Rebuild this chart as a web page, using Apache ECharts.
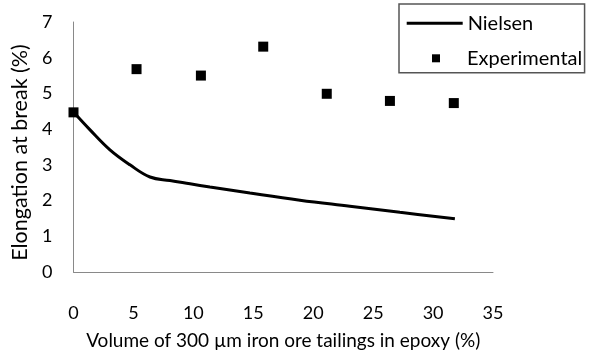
<!DOCTYPE html>
<html>
<head>
<meta charset="utf-8">
<script src="https://cdn.jsdelivr.net/npm/echarts@6/dist/echarts.min.js"></script>
<style>
html,body{margin:0;padding:0;background:#fff;}
#c{width:591px;height:355px;}
</style>
</head>
<body>
<div id="c"></div>
<script>
// Data (x in %, y in %)
var nielsenX = [0, 1.38, 3.04, 4.71, 6.38, 8.05, 9.72, 11.38, 14.72, 18.89, 23.06, 27.23, 31.82];
var nielsenY = [4.48, 3.98, 3.42, 3.00, 2.66, 2.56, 2.47, 2.38, 2.21, 2.01, 1.84, 1.67, 1.49];
var expX = [0, 5.26, 10.63, 15.83, 21.13, 26.4, 31.73];
var expY = [4.47, 5.68, 5.50, 6.31, 4.99, 4.79, 4.73];
var xTicks = [0, 5, 10, 15, 20, 25, 30, 35];
var yTicks = [0, 1, 2, 3, 4, 5, 6, 7];

function zip(a, b) { return a.map(function (v, i) { return [v, b[i]]; }); }

var FONT = 'Lato';
var chart = echarts.init(document.getElementById('c'), null, {renderer: 'canvas'});
chart.setOption({
  animation: false,
  backgroundColor: '#fff',
  textStyle: {fontFamily: FONT, color: '#000'},
  grid: {left: 73.5, right: 98, top: 22, bottom: 82.5, containLabel: false},
  legend: [
    {
      left: 399, top: 4,
      orient: 'vertical',
      padding: [9.3, 51.3, 39.4, 7.7],
      itemWidth: 56, itemHeight: 3,
      borderColor: '#555', borderWidth: 1.5, borderRadius: 0,
      selectedMode: false,
      textStyle: {fontFamily: FONT, fontSize: 20, color: '#000'},
      data: [{name: 'Nielsen', icon: 'rect'}]
    },
    {
      left: 432, top: 48.3,
      orient: 'vertical',
      padding: 0,
      itemWidth: 8, itemHeight: 8,
      selectedMode: false,
      textStyle: {fontFamily: FONT, fontSize: 20, color: '#000', padding: [0, 0, 0, 22]},
      data: [{name: 'Experimental', icon: 'rect'}]
    }
  ],
  xAxis: {
    type: 'value', min: xTicks[0], max: xTicks[xTicks.length - 1], interval: 5,
    name: 'Volume of 300 µm iron ore tailings in epoxy (%)',
    nameLocation: 'middle', nameGap: 59,
    nameTextStyle: {fontFamily: FONT, fontSize: 19, color: '#000'},
    axisLine: {show: true, lineStyle: {color: '#898989', width: 1}},
    axisTick: {show: false},
    splitLine: {show: false},
    axisLabel: {margin: 32, fontFamily: FONT, fontSize: 18, color: '#000'}
  },
  yAxis: {
    type: 'value', min: yTicks[0], max: yTicks[yTicks.length - 1], interval: 1,
    name: 'Elongation at break (%)',
    nameLocation: 'middle', nameGap: 31,
    nameTextStyle: {fontFamily: FONT, fontSize: 21.5, color: '#000', padding: [0, 11, 0, 0]},
    axisLine: {show: true, lineStyle: {color: '#898989', width: 1}},
    axisTick: {show: false},
    splitLine: {show: false},
    axisLabel: {margin: 21, fontFamily: FONT, fontSize: 18, color: '#000'}
  },
  series: [
    {
      name: 'Nielsen', type: 'line', smooth: 0.4, showSymbol: false, symbol: 'none',
      data: zip(nielsenX, nielsenY),
      lineStyle: {color: '#000', width: 3},
      itemStyle: {color: '#000'},
      z: 2
    },
    {
      name: 'Experimental', type: 'scatter', symbol: 'rect', symbolSize: 10,
      data: zip(expX, expY),
      itemStyle: {color: '#000', opacity: 1},
      z: 3
    }
  ]
});
</script>
</body>
</html>
